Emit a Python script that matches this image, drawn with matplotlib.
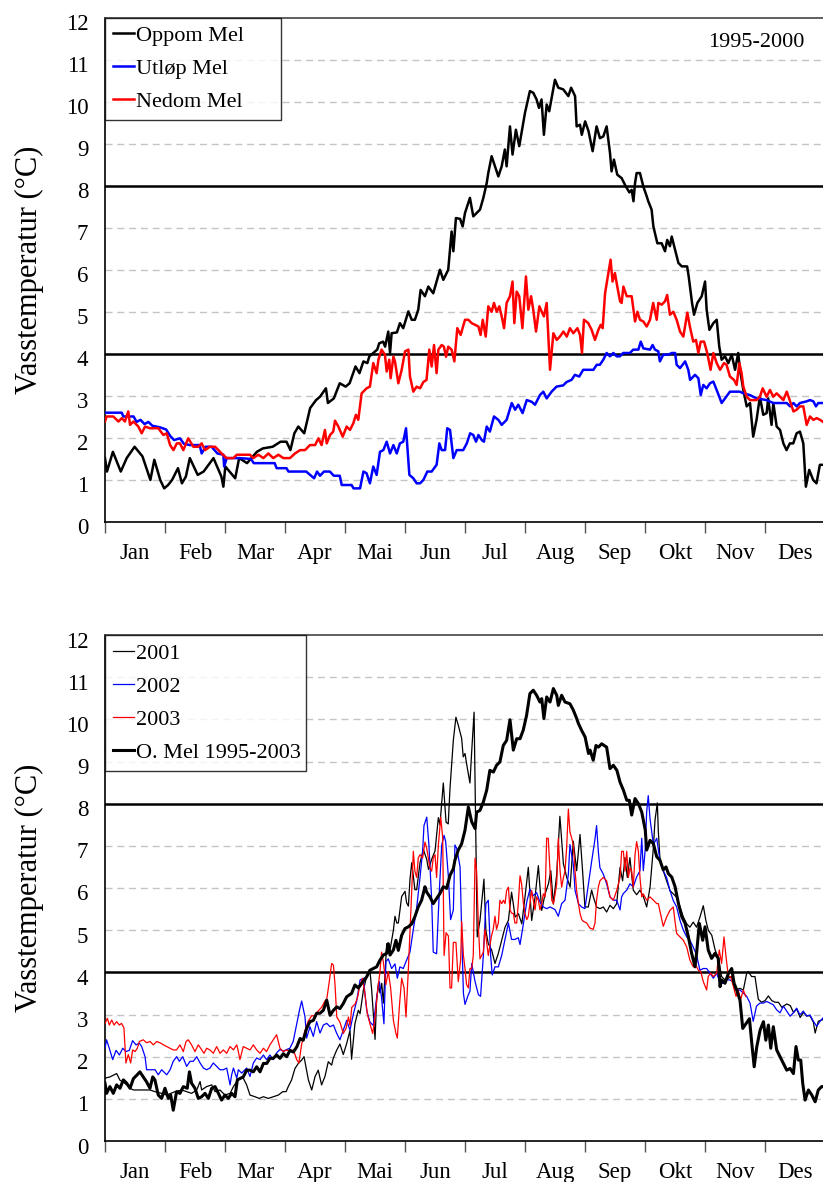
import numpy as np
import matplotlib.pyplot as plt
from matplotlib.transforms import ScaledTranslation

plt.rcParams['font.family'] = ['Liberation Serif', 'DejaVu Serif']

maaneder = ['Jan', 'Feb', 'Mar', 'Apr', 'Mai', 'Jun',
            'Jul', 'Aug', 'Sep', 'Okt', 'Nov', 'Des']

# ---- 1995-2000: døgnmiddel (dag i året, temperatur) ----
dag_oppom = [0, 1, 4, 8, 11, 15, 19, 23, 25, 28,
             30, 32, 34, 37, 39, 41, 43, 47, 50, 55,
             59, 60, 61, 66, 68, 72, 77, 80, 85, 89,
             92, 94, 96, 98, 101, 104, 107, 109, 112, 113,
             116, 119, 122, 124, 127, 129, 131, 133, 134, 136,
             138, 139, 141, 142, 143.6, 144.5, 145.3, 148, 149.5, 151.2,
             153.8, 155.5, 157.1, 158.8, 160, 162.2, 163.9, 166.4, 169.8, 171.5,
             173.2, 174, 175.7, 176.6, 177.9, 180, 181.3, 182.5, 185, 186.7,
             188.4, 190.1, 191.8, 193.5, 194.3, 196, 197.7, 199.4, 201.1, 202.7,
             203.6, 205.3, 206.6, 208.3, 210, 212.9, 215.4, 217.1, 218.8, 220,
             221.3, 222.5, 223.9, 225.2, 228.1, 229.8, 232.3, 234.9, 236.3, 238.3,
             239.1, 240.8, 241.7, 243.4, 245.1, 247.2, 249.2, 250.9, 252.6, 254.3,
             256, 256.8, 258, 259.7, 261.9, 263.6, 265.8, 267, 267.9, 268.7,
             269.5, 271.2, 272.9, 274.6, 275.4, 277.1, 278, 280, 282.2, 283.9,
             285, 286.4, 287.3, 289, 290.7, 292.4, 295.1, 295.9, 297.6, 298.6,
             300.3, 302.5, 304.2, 305, 306.4, 308.4, 310.1, 311.4, 312.6, 314.3,
             316, 317.7, 319.4, 321, 321.9, 323.6, 325.3, 327, 328.6, 330.3,
             332, 333.7, 335.4, 336.2, 337.9, 338.8, 340.5, 342.2, 343.9, 345.5,
             347.2, 348.9, 350.6, 352.3, 354, 355.3, 357, 359, 360.7, 362.4,
             365]
temp_oppom = [1.52, 1.2, 1.67, 1.2, 1.52, 1.79, 1.56, 1.0, 1.48, 1.0,
              0.8, 0.88, 1.0, 1.28, 0.92, 1.08, 1.52, 1.12, 1.2, 1.52,
              1.08, 0.84, 1.32, 1.04, 1.52, 1.4, 1.67, 1.75, 1.79, 1.91,
              1.91, 1.71, 2.11, 2.27, 2.11, 2.71, 2.9, 2.98, 3.18, 2.83,
              2.94, 3.3, 3.22, 3.3, 3.7, 3.54, 3.82, 3.78, 3.94, 4.02,
              4.1, 4.25, 4.29, 4.17, 4.53, 4.02, 4.49, 4.51, 4.73, 4.61,
              5.01, 4.81, 4.81, 5.05, 5.52, 5.37, 5.6, 5.44, 6.0, 5.76,
              5.92, 6.0, 6.91, 6.44, 7.23, 7.21, 7.03, 7.35, 7.71, 7.27,
              7.35, 7.43, 7.71, 8.06, 8.3, 8.7, 8.46, 8.22, 8.46, 8.86,
              8.46, 9.41, 8.74, 9.33, 8.94, 9.73, 10.25, 10.21, 10.05, 9.85,
              10.05, 9.21, 9.93, 9.77, 10.52, 10.33, 10.29, 10.13, 10.33, 10.13,
              9.41, 9.45, 9.21, 9.53, 9.3, 8.82, 9.41, 9.13, 9.17, 9.41,
              8.78, 8.34, 8.62, 8.26, 8.18, 8.02, 7.84, 7.9, 7.63, 8.06,
              8.3, 8.3, 7.98, 7.75, 7.63, 7.43, 7.03, 6.63, 6.63, 6.44,
              6.71, 6.56, 6.79, 6.48, 6.16, 6.08, 6.08, 5.84, 5.21, 4.93,
              5.21, 5.37, 5.72, 5.05, 4.57, 4.73, 4.81, 4.17, 3.86, 3.94,
              3.78, 3.98, 3.62, 4.02, 3.62, 3.14, 2.75, 2.83, 2.03, 2.43,
              2.98, 2.55, 2.59, 2.94, 2.31, 2.83, 2.27, 2.19, 1.87, 1.71,
              1.87, 1.87, 2.11, 2.15, 1.87, 0.84, 1.24, 1.0, 0.92, 1.36,
              1.36]

dag_utlop = [0, 8.5, 9.3, 14.5, 16, 18, 20, 22, 24, 28,
             31, 33, 35, 38, 40, 43, 48, 49, 51, 54,
             57, 60, 60.4, 61.7, 68, 74, 75.4, 86, 87, 92,
             93, 102, 106, 107.5, 109, 111, 114, 116, 119, 120,
             125, 126, 129.3, 131, 132.6, 134.3, 136, 137.7, 139.4, 141.1,
             142.8, 144.5, 146.2, 147.9, 149.5, 151.2, 152.6, 154.3, 156.3, 158,
             159.7, 161.4, 163.4, 165.6, 168.1, 169.5, 170.7, 172.4, 173.5, 174.9,
             176.6, 178.3, 181.6, 183.4, 185.1, 186.7, 188.1, 189.3, 191, 192.1,
             193.5, 195.1, 197.2, 199.4, 201.1, 203.6, 206.2, 207.9, 209.5, 211.7,
             213.8, 216.3, 218, 220.5, 222.2, 223.9, 226.4, 228.9, 232.3, 234,
             236.5, 238.2, 240.4, 242.4, 247.6, 249.3, 250.9, 252.6, 254.3, 256,
             257.7, 259.4, 261, 262.7, 266.1, 267.8, 270.4, 271.6, 272.9, 276.3,
             277.6, 278.8, 280.5, 281.3, 283, 285.6, 287.3, 289, 289.8, 291.5,
             294.1, 295.7, 296.6, 299.1, 300.8, 302, 303.3, 305, 306.7, 308.4,
             310.1, 311.4, 312.6, 314.3, 316.8, 321.9, 323.6, 326.9, 330.3, 335.4,
             338.8, 345.6, 347.3, 349, 350.6, 352.3, 355.7, 357.4, 359.1, 360.4,
             361.6, 365]
temp_utlop = [2.6, 2.6, 2.51, 2.51, 2.38, 2.43, 2.33, 2.38, 2.29, 2.25,
              2.2, 2.05, 1.95, 1.99, 1.86, 1.83, 1.83, 1.63, 1.79, 1.79,
              1.63, 1.6, 1.32, 1.52, 1.52, 1.5, 1.4, 1.4, 1.28, 1.28,
              1.2, 1.2, 1.04, 1.2, 1.1, 1.2, 1.2, 1.1, 1.1, 0.88,
              0.88, 0.8, 0.8, 1.2, 1.16, 0.92, 1.32, 1.12, 1.67, 1.71,
              1.91, 1.63, 1.83, 1.63, 1.87, 1.91, 2.23, 1.12, 1.04, 0.92,
              0.92, 1.0, 1.2, 1.2, 1.36, 1.87, 1.71, 1.71, 2.23, 2.19,
              1.52, 1.71, 1.71, 1.87, 2.11, 2.07, 1.91, 2.07, 1.95, 1.91,
              2.27, 2.15, 2.51, 2.43, 2.31, 2.43, 2.83, 2.67, 2.79, 2.59,
              2.9, 2.86, 2.79, 3.02, 3.1, 2.94, 3.1, 3.22, 3.25, 3.33,
              3.38, 3.5, 3.46, 3.62, 3.62, 3.74, 3.74, 3.86, 4.02, 3.94,
              4.02, 3.94, 3.94, 4.02, 4.02, 4.1, 4.1, 4.29, 4.13, 4.1,
              4.21, 4.1, 4.06, 3.82, 3.98, 3.98, 4.02, 4.02, 3.74, 3.66,
              3.82, 3.62, 3.38, 3.5, 3.42, 3.02, 3.26, 3.18, 3.3, 3.34,
              3.14, 2.98, 2.83, 2.94, 3.1, 3.1, 3.06, 3.02, 2.94, 2.9,
              2.83, 2.83, 2.75, 2.83, 2.75, 2.83, 2.87, 2.9, 2.87, 2.75,
              2.83, 2.83]

dag_nedom = [0, 0.8, 4.2, 6.8, 8.5, 10.1, 11.8, 12.7, 14.4, 16.9,
             18.6, 20.3, 22.8, 27, 29.6, 31.3, 33, 34.7, 36.4, 38,
             39.7, 42.2, 44.8, 47.3, 49, 50.7, 53.2, 55.8, 57.5, 59.1,
             61.7, 65.1, 66.8, 70.2, 73.5, 75.2, 77.7, 80.3, 82.8, 85.3,
             87.9, 90.4, 93.8, 96.3, 98.9, 101.4, 103.9, 106.5, 108.2, 109.8,
             111.5, 112.4, 114.1, 115.7, 116.6, 118.3, 120.5, 122.5, 124.2, 125.9,
             127.2, 128.4, 130.1, 132.6, 134.3, 136, 137.7, 138.6, 140.2, 141.9,
             142.8, 144.1, 144.8, 146.2, 147, 148.7, 150.4, 152.1, 153.8, 154.6,
             156.3, 158, 159.7, 161.4, 163, 164.4, 165.6, 166.8, 168.1, 169,
             170.7, 171.8, 172.9, 174, 175.7, 177.1, 178.6, 180.3, 182.5, 184.2,
             185.9, 187.6, 189.3, 190.4, 191.5, 193, 194.3, 196, 197.2, 198.6,
             199.9, 201.1, 202.3, 203.6, 205.3, 206.6, 207.5, 208.7, 210, 211.6,
             213.4, 214.6, 216, 217.1, 218.5, 220.2, 221.4, 222.5, 223.9, 225.6,
             227.3, 229, 230.6, 232.4, 234.1, 235.7, 237.4, 239.5, 240.8, 241.8,
             242.8, 245, 246.7, 248.4, 250.1, 251.3, 252.3, 253.5, 255.2, 256.3,
             257.3, 258.5, 259.7, 261.1, 261.9, 262.8, 264.5, 267, 268.7, 269.9,
             271.2, 272.9, 274.6, 276.3, 277.9, 279.7, 280.5, 282.2, 283.9, 285,
             286.4, 288.1, 289.8, 291.5, 293.2, 295.2, 296.5, 298.2, 299.6, 300.8,
             302, 303.7, 305.3, 307, 308.4, 310.1, 311.8, 313.8, 315.1, 316.8,
             318.9, 320.2, 321.6, 322.7, 323.6, 325.3, 327, 330.3, 332, 333.4,
             335.4, 337.1, 338.8, 340.5, 342.2, 343.9, 345.6, 347.3, 349, 350.6,
             352.3, 354, 355.7, 357.4, 359.1, 360.8, 362.5, 365]
temp_nedom = [2.39, 2.51, 2.51, 2.39, 2.47, 2.39, 2.63, 2.31, 2.39, 2.27,
              2.11, 2.27, 2.23, 2.23, 2.07, 2.11, 1.83, 1.71, 1.87, 1.87,
              1.71, 1.99, 1.79, 1.79, 1.87, 1.71, 1.79, 1.79, 1.71, 1.63,
              1.52, 1.52, 1.6, 1.6, 1.6, 1.52, 1.6, 1.52, 1.63, 1.52,
              1.6, 1.52, 1.52, 1.63, 1.71, 1.71, 1.83, 1.83, 1.99, 1.83,
              2.19, 1.87, 2.07, 2.15, 2.41, 2.27, 2.03, 2.27, 2.19, 2.35,
              2.55, 2.43, 3.06, 3.18, 3.22, 3.78, 3.54, 3.86, 4.1, 3.98,
              3.58, 3.86, 3.42, 3.93, 3.82, 3.3, 3.62, 4.06, 4.1, 3.46,
              3.1, 3.22, 3.18, 3.33, 3.38, 4.1, 3.7, 4.21, 3.54, 4.1,
              4.21, 4.17, 3.93, 4.17, 4.1, 3.82, 4.61, 4.45, 4.81, 4.81,
              4.73, 4.69, 4.65, 4.45, 4.81, 4.41, 5.13, 5.0, 5.21, 5.0,
              5.13, 4.89, 4.61, 5.21, 5.37, 5.72, 4.73, 5.48, 5.37, 4.61,
              5.84, 5.05, 5.37, 5.05, 4.53, 5.13, 5.0, 4.89, 5.21, 3.62,
              4.49, 4.33, 4.41, 4.53, 4.41, 4.61, 4.49, 4.61, 4.45, 4.02,
              4.81, 4.73, 4.57, 4.33, 4.57, 4.69, 4.61, 5.44, 5.92, 6.24,
              5.72, 5.92, 5.6, 5.25, 5.21, 5.6, 5.37, 5.37, 4.77, 5.0,
              4.81, 4.77, 4.65, 4.81, 5.21, 4.81, 5.21, 5.17, 5.25, 5.4,
              4.93, 5.0, 4.81, 4.53, 4.41, 4.98, 4.65, 4.29, 4.33, 4.02,
              4.29, 4.29, 4.02, 3.62, 4.02, 3.78, 3.62, 3.78, 3.74, 3.46,
              3.38, 3.26, 3.78, 3.54, 3.22, 2.98, 2.9, 2.9, 2.98, 3.18,
              2.98, 3.14, 2.98, 3.06, 2.98, 2.9, 3.1, 2.87, 2.63, 2.67,
              2.75, 2.75, 2.31, 2.51, 2.43, 2.47, 2.43, 2.35]

# ---- 2001-2003 og middel Oppom Mel 1995-2003 ----
dag_middel = [0, 0.8, 2.5, 4.2, 5.9, 7.6, 9.3, 11, 12.7, 14.4,
              16.1, 17.7, 19.4, 21.1, 22.8, 24.2, 25.3, 27, 28.7, 30.4,
              32.1, 33.3, 34.6, 36.3, 38, 39.7, 41.7, 42.8, 43.9, 45.6,
              47.3, 49, 50.7, 52.4, 54.1, 55.8, 57.5, 59.1, 60.8, 62.5,
              64.2, 65.9, 67.1, 68.4, 70.1, 71.8, 73.5, 75.2, 76.9, 78.6,
              80.3, 82, 83.6, 85.3, 87, 88.7, 90.4, 92.1, 93.8, 95.5,
              97.2, 98.9, 100.5, 102.2, 103.9, 105.6, 107.3, 109, 110.7, 112.4,
              114.1, 115.8, 117.5, 119.1, 120.8, 122.5, 125, 126.7, 128.4, 131,
              132.6, 134.3, 136, 137.7, 139.4, 141.1, 142.8, 143.6, 144.5, 146.2,
              147.5, 148.7, 150.4, 152.1, 153.8, 155.5, 157.1, 158.8, 160.5, 162.2,
              163, 164.7, 166.4, 168.1, 169.8, 171.5, 173.2, 174.9, 176.6, 177.4,
              179.1, 180.8, 182.5, 184.2, 185.9, 187.6, 188.4, 190.1, 191.8, 193.5,
              195.1, 196.9, 198.5, 200.2, 201.9, 203.6, 205.3, 207, 208.7, 210.4,
              212, 213.7, 215.4, 217.1, 218.8, 220.5, 221.4, 222.5, 223.9, 225.6,
              227.3, 229, 229.8, 231.5, 233.2, 235.7, 237.4, 239.1, 240, 241.6,
              243.4, 245.1, 245.9, 247.5, 248.9, 250.1, 251.8, 254.3, 256, 257.7,
              259.5, 261.1, 262.8, 264.5, 265.8, 267, 268.7, 270.4, 272.1, 273.9,
              274.6, 276.3, 278, 279.7, 281.3, 283, 284.4, 285.6, 287.3, 289,
              290.7, 292.4, 294.1, 295.7, 297.4, 299.1, 299.9, 301.3, 303, 304.2,
              305.8, 307.5, 309.2, 310.9, 311.8, 312.6, 314.3, 316, 317.7, 318.9,
              320.2, 321.9, 323.3, 324.9, 326.7, 327.9, 329.1, 330.4, 332.1, 333.8,
              335, 336.3, 337.5, 338.8, 340.5, 342.2, 343.9, 345.6, 347.3, 349,
              350.3, 351.5, 352.7, 353.7, 354.9, 356.6, 358.3, 360, 361.6, 363.3,
              365]
temp_middel = [1.37, 1.13, 1.29, 1.13, 1.33, 1.25, 1.45, 1.37, 1.25, 1.48,
               1.56, 1.64, 1.52, 1.4, 1.25, 1.52, 1.45, 1.09, 1.01, 1.25,
               1.01, 1.09, 0.73, 1.17, 1.13, 1.29, 1.25, 1.64, 1.37, 1.25,
               1.01, 1.05, 1.13, 1.01, 1.25, 1.29, 1.13, 0.97, 1.09, 1.01,
               1.13, 1.05, 1.45, 1.48, 1.52, 1.68, 1.68, 1.64, 1.76, 1.64,
               1.84, 1.84, 1.96, 1.96, 2.04, 1.96, 2.07, 2.0, 2.15, 2.11,
               2.23, 2.43, 2.39, 2.67, 2.83, 2.86, 3.03, 3.03, 3.1, 3.34,
               2.98, 3.1, 3.18, 3.14, 3.26, 3.42, 3.5, 3.7, 3.63, 3.79,
               3.89, 4.05, 4.09, 4.13, 4.29, 4.41, 4.45, 4.68, 4.41, 4.53,
               4.76, 4.52, 4.88, 5.04, 5.08, 5.15, 5.32, 5.55, 5.71, 6.03,
               5.91, 5.79, 5.63, 5.75, 5.87, 6.03, 5.99, 6.3, 6.46, 6.66,
               6.9, 7.05, 7.37, 7.92, 7.57, 7.41, 7.8, 7.84, 8.04, 8.32,
               8.79, 8.75, 8.91, 8.99, 9.38, 9.5, 9.99, 9.27, 9.54, 9.54,
               9.74, 10.09, 10.61, 10.69, 10.57, 10.41, 10.49, 10.02, 10.53, 10.41,
               10.73, 10.57, 10.33, 10.57, 10.41, 10.37, 10.22, 10.02, 9.9, 9.74,
               9.58, 9.19, 9.27, 9.03, 9.38, 9.34, 9.42, 9.34, 8.83, 8.91,
               8.79, 8.51, 8.32, 8.08, 8.08, 7.73, 8.12, 8.0, 7.8, 7.37,
               6.9, 7.13, 7.05, 6.74, 6.66, 6.43, 6.5, 6.34, 6.26, 6.03,
               5.63, 5.32, 5.16, 4.85, 4.45, 4.13, 4.45, 5.16, 4.76, 5.08,
               4.53, 4.33, 4.45, 4.33, 3.66, 3.82, 3.74, 3.97, 4.09, 3.74,
               3.59, 3.34, 2.67, 2.78, 2.9, 2.31, 1.76, 2.23, 2.63, 2.83,
               2.39, 2.75, 2.2, 2.71, 2.16, 2.0, 1.84, 1.68, 1.72, 1.6,
               2.24, 1.92, 1.92, 1.37, 0.97, 1.21, 1.09, 0.93, 1.21, 1.29,
               1.29]

dag_2001 = [0, 2.5, 5.9, 7.6, 9.3, 11, 12.7, 14.4, 22.8, 25.3,
            28.7, 31.3, 35.5, 38.9, 43.9, 46.5, 48.2, 49, 51.5, 54.1,
            55.8, 58.3, 60.8, 63.4, 65.1, 66.8, 68.4, 70.1, 71.8, 73.5,
            76, 78.2, 80.3, 82.8, 85.3, 87.9, 90.1, 91.8, 92.9, 94.6,
            96.3, 98, 99.7, 100.9, 102.2, 103.1, 104.8, 106.5, 108.1, 109.8,
            111.5, 113.2, 114.9, 115.7, 117.4, 119.1, 120.8, 122.5, 124.2, 125,
            126.7, 128.4, 129.3, 131, 132.6, 134.3, 135.2, 136, 136.9, 137.7,
            138.6, 139.4, 140.3, 141.1, 141.9, 142.8, 143.6, 144.5, 146.2, 147,
            147.9, 148.7, 150.4, 152.1, 152.9, 153.8, 154.6, 155.5, 157.1, 158,
            159.7, 161.4, 163.1, 164, 165.6, 167.3, 169, 169.8, 171.5, 172.9,
            174, 174.9, 176.6, 177.9, 179.1, 180.8, 181.6, 182.5, 183.4, 185,
            185.9, 187.1, 188.1, 188.7, 190.1, 190.9, 192.1, 193.1, 194.3, 196,
            197.7, 199.4, 201.1, 202.8, 204.5, 206.1, 207, 207.9, 209.6, 211.3,
            212.9, 214.6, 216.3, 218, 219.7, 221.4, 223.1, 224.8, 226, 227.3,
            229, 230.6, 232.4, 234.1, 235.8, 237.4, 239.1, 240.8, 242.1, 243.3,
            245, 246.7, 247.5, 249.2, 250.9, 252.6, 254.3, 256, 257.7, 259.4,
            261.1, 262.4, 263.6, 264.8, 266.1, 267.8, 269.5, 271.2, 272.9, 274.6,
            276.3, 278, 278.8, 280, 280.5, 281.3, 283, 284.7, 286.4, 288.1,
            289.8, 291.5, 293.2, 294.9, 296.5, 298.2, 299.9, 301.6, 303.3, 304.6,
            305.9, 307.6, 309.3, 311, 312.6, 314.3, 316, 317.7, 319.4, 321.9,
            323.6, 325.3, 326.1, 327.8, 329.5, 331.2, 332.9, 334.6, 336.3, 338,
            339.7, 341.4, 343.1, 345.6, 347.4, 349, 350.7, 352.4, 354.1, 355.7,
            357.4, 359.1, 360, 361.6, 364]
temp_2001 = [1.49, 1.52, 1.6, 1.44, 1.4, 1.33, 1.25, 1.21, 1.21, 1.17,
             1.13, 1.09, 1.17, 1.21, 1.13, 1.21, 1.41, 1.21, 1.29, 1.33,
             1.17, 1.21, 1.09, 1.13, 1.29, 1.41, 1.49, 1.49, 1.33, 1.09,
             1.05, 1.01, 1.05, 1.01, 1.05, 1.09, 1.17, 1.17, 1.29, 1.45,
             1.72, 1.84, 1.92, 2.0, 1.68, 1.45, 1.21, 1.53, 1.68, 1.33,
             1.53, 1.88, 1.8, 1.96, 2.15, 2.3, 2.05, 2.31, 2.62, 1.94,
             2.78, 3.1, 3.02, 3.58, 3.89, 4.05, 3.58, 3.02, 2.41, 3.35,
             3.74, 3.51, 3.74, 3.27, 3.9, 4.68, 4.6, 4.53, 5.0, 5.33,
             5.17, 5.17, 5.8, 5.92, 5.65, 5.57, 6.2, 6.6, 5.96, 5.96,
             6.6, 6.91, 6.68, 6.44, 6.68, 6.88, 7.67, 7.5, 8.49, 7.56,
             7.52, 8.37, 9.51, 10.05, 9.86, 9.55, 9.11, 9.19, 8.92, 8.49,
             9.24, 10.17, 6.72, 4.84, 5.23, 5.62, 6.21, 4.99, 4.68, 4.53,
             4.21, 4.45, 4.76, 5.07, 5.23, 5.9, 5.62, 5.31, 5.39, 5.15,
             5.78, 6.49, 5.23, 5.78, 6.53, 5.47, 5.86, 6.1, 6.41, 5.62,
             6.33, 7.7, 6.57, 6.25, 6.02, 7.11, 6.41, 7.27, 6.41, 5.55,
             5.55, 5.95, 5.8, 5.55, 5.51, 5.55, 5.43, 5.59, 5.51, 5.63,
             6.49, 6.17, 6.72, 6.25, 6.72, 5.95, 5.84, 5.95, 5.8, 5.55,
             6.02, 6.96, 7.6, 8.02, 7.35, 6.72, 6.41, 6.17, 5.94, 5.86,
             5.78, 5.55, 5.31, 5.15, 5.07, 5.19, 5.07, 5.31, 5.58, 5.23,
             4.99, 4.88, 4.53, 4.33, 3.9, 3.82, 3.86, 3.9, 3.58, 3.62,
             3.58, 3.98, 4.02, 3.9, 3.9, 3.36, 3.29, 3.33, 3.44, 3.33,
             3.29, 3.29, 3.17, 3.25, 3.21, 3.05, 3.13, 2.93, 3.05, 2.97,
             2.97, 2.82, 2.56, 2.84, 2.88]

dag_2002 = [0, 0.8, 2.5, 3.9, 5.6, 7.3, 9, 10.6, 12.3, 14,
            15.7, 17.4, 18.6, 20.3, 21.1, 23.7, 25.4, 27, 28.7, 30.4,
            31.3, 33, 34.6, 36.3, 37.7, 39.4, 41.4, 43.1, 44.8, 46.5,
            48.2, 49.9, 51.5, 53.2, 54.9, 56.6, 58.3, 60, 61.7, 63.4,
            64.2, 65.1, 66.8, 67.6, 69.3, 71.8, 73.5, 75.2, 76.9, 78.6,
            80.3, 81.9, 83.6, 85.3, 87, 88.7, 90.4, 92.1, 93.7, 95.4,
            97.1, 98.8, 99.7, 101.4, 102.2, 103.9, 105.6, 107.3, 109, 110.7,
            112.4, 114.1, 115.8, 117.4, 119.1, 120.8, 122.5, 124.2, 125.9, 127.6,
            129.3, 131, 131.8, 132.7, 134.3, 136, 137.7, 139.1, 140.2, 141.4,
            142.4, 143.6, 145.3, 147, 148.2, 149.5, 151.2, 152.9, 154.6, 156.3,
            157.9, 159.7, 161, 161.7, 163.1, 164.2, 165.6, 166.4, 168.1, 169.5,
            170.7, 171.9, 172.7, 174.1, 175.2, 176.6, 177.4, 178.3, 180, 180.8,
            181.7, 182.5, 184.2, 185, 185.9, 187.6, 189.3, 190.4, 191.8, 193.1,
            194.3, 195.5, 196.3, 197.7, 199.4, 201.1, 202.8, 204.5, 206.1, 207.8,
            209.5, 210.4, 212, 213.8, 215.4, 217.1, 218.8, 220.5, 222.2, 223.9,
            225.6, 228.1, 229.8, 231.5, 233.2, 234.9, 235.7, 237.4, 238.3, 240,
            241.6, 243.3, 245.1, 246.7, 248.4, 249.2, 250.1, 250.9, 252.6, 254.3,
            256, 257.7, 259.4, 261.1, 261.9, 262.8, 264.5, 266.1, 267.8, 269.5,
            271.2, 272.1, 272.9, 273.8, 274.6, 275.4, 276.3, 278, 279.7, 281.3,
            283, 284.7, 286.4, 288.1, 289.8, 291.5, 293.2, 294.9, 296.5, 298.2,
            299.9, 301.6, 303.3, 305, 306.7, 308.4, 310.1, 311.8, 313.5, 315.2,
            316.8, 318.5, 320.2, 321.9, 323.6, 325.3, 327, 328.6, 330.3, 332,
            333.7, 335.4, 337.1, 338.8, 340.5, 342.2, 343.9, 345.6, 347.3, 349,
            350.6, 352.3, 354, 355.7, 357.4, 359.1, 360.8, 362.5, 364]
temp_2002 = [2.2, 2.4, 2.15, 1.93, 2.15, 2.04, 2.2, 2.12, 2.15, 2.38,
             2.28, 2.32, 2.24, 2.0, 1.69, 1.69, 1.69, 1.57, 1.69, 1.61,
             1.57, 1.69, 1.89, 2.0, 1.89, 2.0, 1.77, 1.89, 1.89, 2.0,
             1.85, 1.73, 1.69, 1.73, 1.85, 1.77, 1.69, 1.69, 1.73, 1.33,
             1.57, 1.73, 1.49, 1.69, 1.61, 1.73, 1.53, 1.85, 1.97, 1.93,
             2.04, 1.93, 2.04, 1.93, 2.09, 2.17, 2.13, 2.17, 2.2, 2.36,
             2.75, 3.15, 3.32, 2.94, 2.44, 2.71, 2.48, 2.83, 2.56, 2.75,
             2.79, 2.71, 2.75, 2.56, 2.4, 2.63, 2.86, 2.63, 3.01, 3.32,
             3.82, 3.86, 3.48, 3.09, 2.82, 2.74, 3.4, 3.78, 3.4, 2.78,
             4.25, 4.32, 4.09, 4.2, 3.86, 4.13, 4.09, 4.29, 4.48, 5.02,
             5.49, 6.25, 6.87, 7.48, 7.68, 7.03, 5.72, 4.48, 4.44, 5.94,
             7.02, 7.25, 7.1, 6.25, 5.25, 5.48, 7.02, 6.94, 6.5, 5.0,
             3.5, 3.24, 3.47, 3.55, 4.21, 3.78, 3.47, 3.43, 4.4, 5.63,
             5.71, 4.4, 3.94, 4.13, 4.13, 4.4, 4.79, 5.17, 4.78, 4.78,
             4.82, 4.66, 5.12, 5.67, 5.97, 5.82, 5.89, 5.67, 5.55, 5.51,
             5.55, 5.49, 5.33, 5.63, 5.71, 6.33, 7.03, 6.56, 5.94, 5.63,
             5.55, 5.51, 6.1, 6.63, 7.16, 7.48, 6.86, 6.48, 6.33, 6.1,
             5.79, 5.71, 5.71, 5.48, 5.79, 5.87, 5.95, 6.1, 6.03, 6.26,
             6.41, 7.18, 6.41, 6.88, 7.81, 8.19, 7.64, 7.03, 7.18, 6.66,
             6.41, 6.25, 5.94, 5.7, 5.55, 5.23, 5.0, 4.84, 4.76, 4.6,
             4.41, 4.05, 4.09, 4.09, 3.98, 3.86, 3.98, 3.74, 3.74, 3.82,
             3.82, 3.78, 3.58, 3.58, 3.51, 3.43, 3.27, 2.84, 3.2, 3.27,
             3.27, 3.31, 3.27, 3.23, 3.11, 3.04, 3.2, 3.08, 2.96, 3.04,
             3.15, 2.99, 3.08, 2.96, 2.99, 2.84, 2.72, 2.84, 2.92]

dag_2003 = [0, 1.2, 2.2, 3.4, 4.6, 5.9, 7.3, 8.4, 9.6, 10.6,
            11.8, 13, 14, 15.2, 16.4, 17.4, 19.4, 21.1, 22.8, 24.5,
            26.2, 27.9, 29.6, 31.3, 32.9, 34.6, 36.3, 38, 39.7, 41.1,
            42.2, 43.9, 45.6, 47.3, 49, 50.2, 51.5, 53.2, 54.9, 56.6,
            58.3, 60, 61.7, 63.4, 65.1, 66.8, 67.6, 68.4, 70.1, 71.8,
            73.5, 75.2, 76.9, 78.6, 80.3, 81.9, 83.6, 85.3, 87, 88.7,
            90.4, 92.1, 93.8, 95.5, 97.2, 98.3, 99.7, 101.4, 103.1, 104.8,
            106.5, 108.2, 109.8, 111.5, 112.4, 113.7, 114.9, 115.8, 116.6, 117.5,
            119.1, 120.8, 122.2, 123.4, 124.2, 125.1, 126.8, 128, 129.3, 130.6,
            131.8, 133, 134.3, 135.7, 136.9, 138.1, 139.4, 140.2, 141.1, 142.4,
            143.6, 144.8, 146.2, 147.5, 148.2, 149.2, 150.4, 151.6, 152.6, 153.8,
            154.6, 155.5, 156.3, 157.1, 158, 158.8, 159.7, 161, 162.2, 163.1,
            163.9, 164.7, 165.6, 166.4, 167.3, 168.1, 169, 170.2, 171.2, 171.9,
            172.9, 174.1, 174.9, 175.7, 176.6, 177.9, 179.1, 180.3, 180.8, 181.7,
            182.5, 183.3, 184.2, 185, 185.9, 186.7, 187.6, 188.4, 189.3, 190.1,
            191.8, 192.6, 193.5, 194.3, 195.1, 195.9, 196.8, 197.7, 198.5, 199.4,
            200.2, 201.1, 202, 202.8, 203.6, 204.5, 205.3, 206.2, 207, 207.8,
            208.7, 209.5, 210.4, 211.2, 212.1, 212.9, 213.8, 214.6, 215.4, 216.3,
            217.1, 218, 218.8, 219.7, 220.5, 221.4, 222.2, 223.1, 223.9, 224.7,
            225.6, 226.5, 227.3, 228.2, 229, 229.8, 230.7, 231.5, 232.4, 233.2,
            234, 234.9, 235.7, 236.6, 237.4, 238.3, 239.1, 240, 240.8, 241.7,
            242.5, 244.2, 245.8, 247.5, 248.4, 249.2, 250.1, 250.9, 252.6, 254.3,
            256, 257.7, 259.4, 261.1, 261.9, 262.8, 263.6, 264.5, 265.3, 266.2,
            267, 267.8, 268.7, 269.5, 270.4, 271.2, 272.1, 272.9, 274.6, 276.3,
            278, 279.7, 280.5, 283, 284.7, 286.4, 288.1, 288.9, 289.8, 291.5,
            293.2, 294.9, 296.5, 298.2, 299.1, 300.8, 302, 303.3, 305, 305.8,
            307, 308.4, 310.1, 311.4, 312.6, 313.8, 314.8, 316, 317.2, 318.6,
            319.9, 321, 322.2, 323.6, 324.8]
temp_2003 = [2.79, 2.91, 2.75, 2.87, 2.75, 2.83, 2.75, 2.79, 2.68, 1.85,
             2.05, 1.85, 2.16, 2.12, 2.2, 2.36, 2.4, 2.33, 2.36, 2.28,
             2.36, 2.33, 2.28, 2.24, 2.2, 2.16, 2.16, 2.28, 2.12, 2.36,
             2.4, 2.28, 2.12, 2.28, 2.16, 2.08, 2.2, 2.16, 2.08, 2.24,
             2.08, 2.16, 2.08, 2.24, 2.16, 2.28, 2.12, 1.93, 2.24, 2.2,
             2.16, 2.28, 2.16, 2.08, 2.2, 2.12, 2.28, 2.4, 2.52, 2.2,
             2.12, 2.16, 2.12, 2.16, 1.93, 1.85, 2.3, 2.62, 2.85, 2.97,
             2.97, 3.09, 3.17, 3.32, 3.36, 3.78, 4.21, 4.17, 3.71, 2.94,
             2.82, 2.55, 2.67, 2.94, 2.74, 3.17, 3.25, 3.4, 3.71, 3.86,
             3.48, 3.01, 2.78, 2.55, 2.94, 3.51, 4.02, 4.48, 4.25, 3.71,
             4.02, 3.63, 2.86, 2.55, 2.44, 3.17, 3.86, 3.63, 2.94, 4.09,
             4.94, 5.94, 6.87, 6.4, 6.25, 6.71, 6.79, 6.71, 7.09, 6.94,
             6.71, 6.48, 6.4, 6.71, 6.79, 6.25, 7.02, 7.68, 7.18, 4.4,
             4.94, 4.86, 3.63, 3.63, 4.71, 4.71, 3.78, 4.3, 5.21, 4.4,
             4.09, 3.71, 3.63, 4.09, 4.09, 4.4, 6.71, 6.4, 5.09, 4.32,
             4.48, 5.02, 4.71, 4.4, 4.63, 4.86, 5.02, 5.33, 5.02, 5.17,
             5.71, 5.63, 5.71, 5.63, 5.94, 6.02, 5.48, 5.4, 5.4, 5.17,
             5.17, 5.63, 6.29, 6.1, 5.63, 5.4, 5.25, 5.33, 5.63, 5.94,
             5.71, 5.48, 5.79, 5.71, 5.48, 5.63, 5.86, 5.79, 7.18, 7.18,
             6.4, 5.71, 5.63, 5.86, 6.1, 7.18, 6.4, 6.02, 6.25, 6.4,
             6.94, 7.87, 7.33, 7.18, 7.02, 6.4, 5.94, 5.63, 5.4, 5.25,
             5.21, 5.17, 5.05, 5.02, 5.17, 5.71, 6.02, 6.17, 6.25, 6.17,
             5.79, 5.71, 5.94, 6.25, 6.87, 6.87, 6.4, 6.87, 6.25, 6.48,
             6.4, 6.02, 6.79, 7.1, 6.87, 6.25, 5.79, 5.86, 5.71, 5.79,
             5.71, 5.63, 5.63, 5.09, 5.31, 5.47, 5.55, 5.23, 4.92, 4.84,
             4.76, 4.6, 4.29, 4.13, 4.21, 4.05, 4.02, 3.78, 3.58, 3.9,
             3.98, 3.9, 3.98, 4.53, 4.21, 4.84, 4.38, 3.9, 3.9, 3.66,
             3.43, 3.58, 3.35, 3.58, 3.43]

W, H = 823, 1182
fig = plt.figure(figsize=(W / 100, H / 100), dpi=100)
ax1 = fig.add_axes([105 / W, (H - 522) / H, 720 / W, 504.5 / H])
ax2 = fig.add_axes([105 / W, (H - 1141) / H, 720 / W, 506 / H])

# tallene på y-aksen står litt under linjene
ned = ScaledTranslation(0, -4.5 / 100, fig.dpi_scale_trans)


def ramme(ax):
    ax.set_xlim(0, 365)
    ax.set_ylim(0, 12)
    for v in [1, 2, 3, 5, 6, 7, 9, 10, 11]:
        ax.axhline(v, color='#c4c4c4', lw=1.0, ls=(0, (5, 3.5)), zorder=0)
    for v in [4, 8]:
        ax.axhline(v, color='black', lw=1.8, zorder=1)
    grenser = np.arange(13) * 365 / 12
    ax.set_xticks(grenser)
    ax.set_xticklabels([])
    ax.set_xticks(grenser[:-1] + 365 / 24, minor=True)
    ax.set_xticklabels(maaneder, minor=True)
    ax.tick_params(axis='x', which='major', direction='out', length=8,
                   width=1, color='#555555')
    ax.tick_params(axis='x', which='minor', length=0, pad=15, labelsize=16.5)
    ax.set_yticks(range(13))
    ax.tick_params(axis='y', length=0, pad=12, labelsize=16.5)
    for lab in ax.get_yticklabels():
        lab.set_transform(lab.get_transform() + ned)
    for s in ax.spines.values():
        s.set_linewidth(1.2)
    ax.spines['top'].set_color('#444444')
    ax.set_ylabel('Vasstemperatur (°C)', fontsize=22)
    ax.yaxis.set_label_coords(-0.085, 0.5)


def forklaring(ax, bredde):
    leg = ax.legend(loc='upper left', bbox_to_anchor=(0, 1, bredde, 0),
                    mode='expand', fontsize=16, frameon=True, fancybox=False,
                    borderaxespad=0, handlelength=0.95, handletextpad=0.1,
                    labelspacing=0.56, borderpad=0.36)
    leg.get_frame().set_edgecolor('black')
    leg.get_frame().set_linewidth(1.0)
    leg.set_zorder(10)


ramme(ax1)
ax1.plot(dag_oppom, temp_oppom, color='black', lw=1.8, label='Oppom Mel', zorder=3)
ax1.plot(dag_utlop, temp_utlop, color='#0000ff', lw=1.8, label='Utløp Mel', zorder=3)
ax1.plot(dag_nedom, temp_nedom, color='#ff0000', lw=1.8, label='Nedom Mel', zorder=3)
ax1.text(0.904, 0.951, '1995-2000', transform=ax1.transAxes,
         ha='center', va='center', fontsize=16)
forklaring(ax1, 176 / 720)

ramme(ax2)
ax2.plot(dag_2001, temp_2001, color='black', lw=0.9, label='2001', zorder=3)
ax2.plot(dag_2002, temp_2002, color='#0000ff', lw=0.9, label='2002', zorder=3)
ax2.plot(dag_2003, temp_2003, color='#ff0000', lw=0.9, label='2003', zorder=3)
ax2.plot(dag_middel, temp_middel, color='black', lw=2.2,
         label='O. Mel 1995-2003', zorder=4)
forklaring(ax2, 201 / 720)

fig.savefig('out.png', dpi=100)
